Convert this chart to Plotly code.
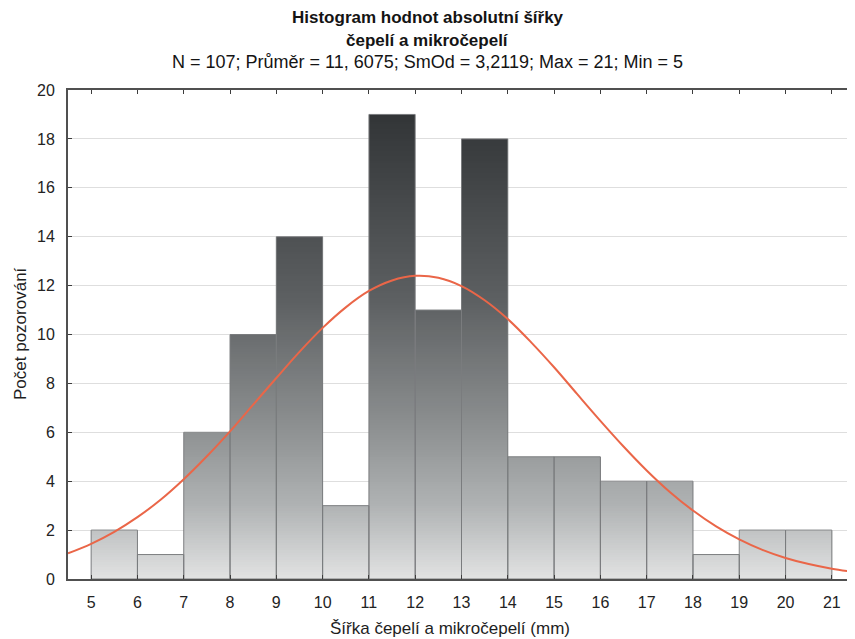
import plotly.graph_objects as go

# ---- data ----
bin_left = [5, 6, 7, 8, 9, 10, 11, 12, 13, 14, 15, 16, 17, 18, 19, 20]
counts = [2, 1, 6, 10, 14, 3, 19, 11, 18, 5, 5, 4, 4, 1, 2, 2]
x_ticks = list(range(5, 22))
y_ticks = list(range(0, 21, 2))

# fitted normal curve
curve_x = [4.5, 5, 5.5, 6, 6.5, 7, 7.5, 8, 8.5, 9, 9.5, 10, 10.5, 11, 11.5, 12,
           12.5, 13, 13.5, 14, 14.5, 15, 15.5, 16, 16.5, 17, 17.5, 18, 18.5, 19,
           19.5, 20, 20.5, 21, 21.5]
curve_y = [1.05, 1.44, 1.93, 2.53, 3.24, 4.08, 5.02, 6.04, 7.13, 8.22, 9.29, 10.27,
           11.11, 11.78, 12.21, 12.40, 12.32, 11.98, 11.40, 10.63, 9.69, 8.66, 7.56,
           6.47, 5.42, 4.44, 3.56, 2.80, 2.15, 1.62, 1.19, 0.86, 0.61, 0.42, 0.28]

title1 = "Histogram hodnot absolutní šířky"
title2 = "čepelí a mikročepelí"
title3 = "N = 107; Průměr = 11, 6075; SmOd = 3,2119; Max = 21; Min = 5"
x_title = "Šířka čepelí a mikročepelí (mm)"
y_title = "Počet pozorování"

FONT = "Liberation Sans Narrow, Liberation Sans, Arial, sans-serif"

# ---- gradient fill of bars via heatmap masked above each bar ----
step = 0.1
n_rows = int(max(counts) / step)
y_centers = [round((i + 0.5) * step, 3) for i in range(n_rows)]
x_centers = [b + 0.5 for b in bin_left]
z = []
for yc in y_centers:
    z.append([yc if yc < c else None for c in counts])

colorscale = [
    [0.0, "rgb(226,227,227)"],
    [3 / 19, "rgb(176,179,180)"],
    [6 / 19, "rgb(143,146,147)"],
    [11.4 / 19, "rgb(93,96,98)"],
    [1.0, "rgb(50,53,55)"],
]

fig = go.Figure()
fig.add_trace(go.Heatmap(
    x=x_centers, y=y_centers, z=z, zmin=0, zmax=max(counts),
    colorscale=colorscale, showscale=False, hoverinfo="skip",
))
fig.add_trace(go.Bar(
    x=x_centers, y=counts, width=1,
    marker=dict(color="rgba(0,0,0,0)", line=dict(color="rgb(122,124,126)", width=1)),
    showlegend=False, hoverinfo="skip",
))
fig.add_trace(go.Scatter(
    x=curve_x, y=curve_y, mode="lines", line=dict(color="rgb(234,102,72)", width=2, shape="spline"),
    showlegend=False, hoverinfo="skip",
))

axis_common = dict(
    showline=True, linecolor="rgb(80,80,80)", linewidth=2, mirror="allticks",
    ticks="inside", ticklen=4, tickwidth=1, tickcolor="rgb(60,60,60)",
    tickfont=dict(family=FONT, size=16, color="rgb(35,35,35)"),
    zeroline=False, automargin=False,
)

# the page body adds an 8px offset, so the figure is 8px smaller than the window
fig.update_layout(
    width=847, height=631,
    margin=dict(l=60, r=0, t=82, b=60),
    paper_bgcolor="white", plot_bgcolor="white",
    showlegend=False,
    font=dict(family=FONT, color="rgb(30,30,30)"),
    xaxis=dict(range=[4.5, 21.5], tickmode="array", tickvals=x_ticks,
               ticktext=[str(v) for v in x_ticks], showgrid=False,
               ticklabelstandoff=8, **axis_common),
    yaxis=dict(range=[0, 20], tickmode="array", tickvals=y_ticks,
               ticktext=[str(v) for v in y_ticks], showgrid=True,
               gridcolor="rgb(222,222,222)", gridwidth=1, ticklabelstandoff=8,
               **axis_common),
)

cx = (427.5 - 68) / 787
for txt, ypx, bold, size in [(title1, 17, True, 17), (title2, 40, True, 17), (title3, 62, False, 18)]:
    fig.add_annotation(
        text=f"<b>{txt}</b>" if bold else txt,
        xref="paper", yref="paper", x=cx, y=1 + (90 - ypx) / 489,
        xanchor="center", yanchor="middle", showarrow=False,
        font=dict(family=FONT, size=size, color="rgb(20,20,20)"),
    )

fig.add_annotation(
    text=x_title, xref="paper", yref="paper", x=(450 - 68) / 787, y=(579 - 628) / 489,
    xanchor="center", yanchor="middle", showarrow=False,
    font=dict(family=FONT, size=17, color="rgb(30,30,30)"),
)
fig.add_annotation(
    text=y_title, xref="paper", yref="paper", x=(20 - 68) / 787, y=(579 - 334) / 489,
    xanchor="center", yanchor="middle", showarrow=False, textangle=-90,
    font=dict(family=FONT, size=17, color="rgb(30,30,30)"),
)

fig.write_html("out.html")
